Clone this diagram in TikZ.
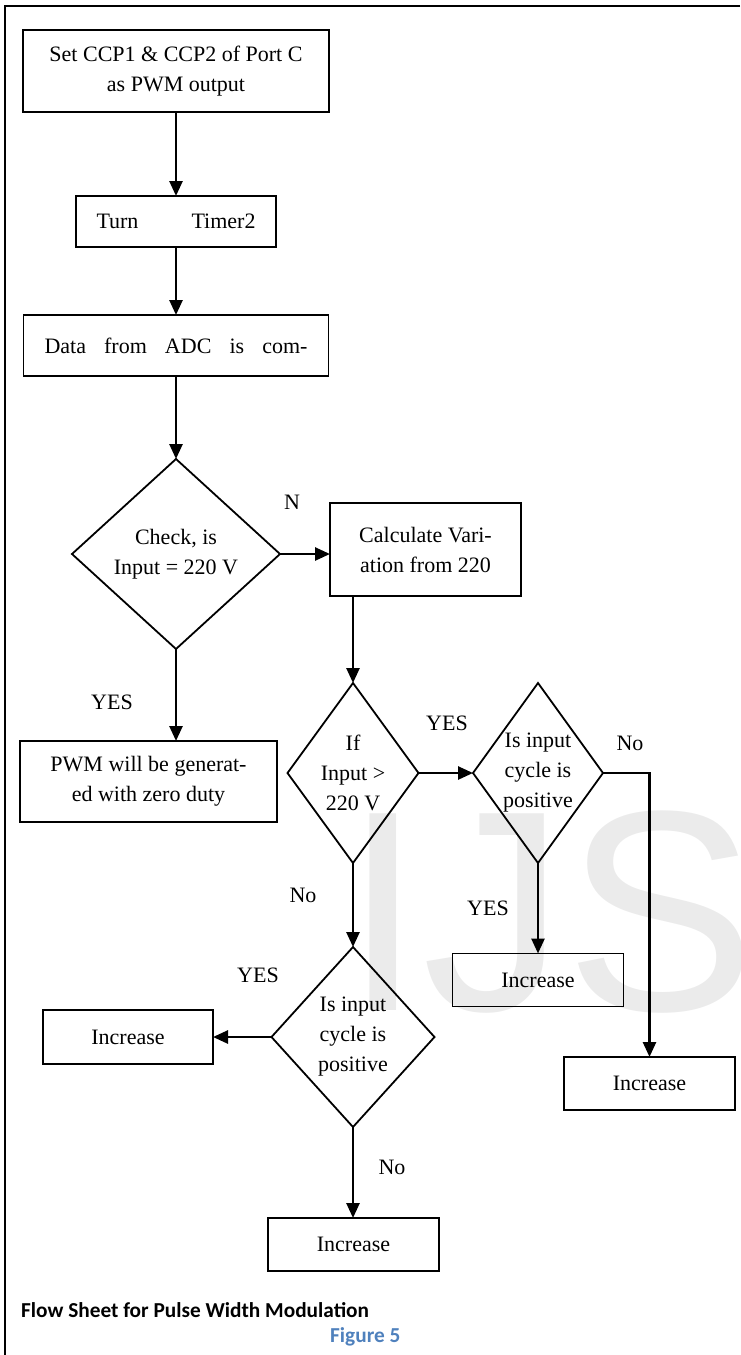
\documentclass[tikz,border=0pt]{standalone}
\usepackage{fontspec}
\setmainfont{Liberation Serif}
\newfontfamily\capfont{Carlito}
\newfontfamily\wmfont{Liberation Sans}
\usetikzlibrary{shapes.geometric,arrows.meta,calc}
\definecolor{wmgray}{RGB}{235,235,235}
\definecolor{figblue}{RGB}{79,129,189}
\begin{document}
\begin{tikzpicture}[x=1pt,y=-1pt,
  every node/.style={font=\fontsize{22}{30}\selectfont},
  box/.style={draw, line width=1.8pt, inner sep=0pt, outer sep=0pt, align=center},
  dia/.style={draw, diamond, line width=1.8pt, inner sep=0pt, outer sep=0pt},
  arr/.style={line width=2.6pt, -{Triangle[length=15pt,width=13pt]}},
  lbl/.style={inner sep=0pt},
  frame/.style={line width=2.4pt},
]
\useasboundingbox (0,0) rectangle (740,1355);
% watermark
\begin{scope}
  \clip (0,0) rectangle (740,1355);
  \node[anchor=base west, inner sep=0pt, text=wmgray, font=\wmfont\fontsize{286}{286}\selectfont] (wm) at (343,1010) {IJS};
\end{scope}
% frame
\coordinate (fr) at (740,6);
\coordinate (fc) at (5,6);
\coordinate (fb) at (5,1355);
\draw[frame] (fr) -- (fc) -- (fb);

% boxes
\node[box, minimum width=306pt, minimum height=82pt] (b1) at (176,71) {Set CCP1 \& CCP2 of Port C\\as PWM output};
\node[box, minimum width=200pt, minimum height=51pt] (b2) at (176,221.5) {\makebox[159pt][s]{Turn Timer2}};
\node[box, minimum width=305pt, minimum height=61pt] (b3) at (176,345.5) {\makebox[263pt][s]{Data from ADC is com-}};
\node[dia, minimum width=208pt, minimum height=190pt,
  label={[align=center, inner sep=0pt]center:{Check, is\\Input = 220 V}}] (d1) at (176,554) {};
\node[box, minimum width=191pt, minimum height=93pt] (calc) at (425.5,549.5) {Calculate Vari-\\ation from 220};
\node[box, minimum width=257pt, minimum height=81pt] (pwm) at (148.5,781.5) {PWM will be generat-\\ed with zero duty};
\node[dia, minimum width=131pt, minimum height=180pt,
  label={[align=center, inner sep=0pt]center:{If\\Input >\\220 V}}] (d2) at (353,773) {};
\node[dia, minimum width=130pt, minimum height=180pt,
  label={[align=center, inner sep=0pt]center:{Is input\\cycle is\\positive}}] (d3) at (538,773) {};
\node[dia, minimum width=163pt, minimum height=180pt,
  label={[align=center, inner sep=0pt]center:{Is input\\cycle is\\positive}}] (d4) at (353,1037) {};
\node[box, minimum width=170pt, minimum height=54pt] (incL) at (128,1037) {Increase};
\node[box, minimum width=171pt, minimum height=53pt] (incB) at (353.5,1244.5) {Increase};
\node[box, minimum width=171pt, minimum height=53pt] (incM) at (538,980) {Increase};
\node[box, minimum width=171pt, minimum height=53pt] (incR) at (649.5,1083.5) {Increase};

% connectors
\draw[arr] (b1.south) -- (b2.north);
\draw[arr] (b2.south) -- (b3.north);
\draw[arr] (b3.south) -- (d1.north);
\draw[arr] (d1.east) -- (d1.east -| calc.west);
\draw[arr] (d1.south) -- (d1.south |- pwm.north);
\draw[arr] (calc.south -| d2.north) -- (d2.north);
\draw[arr] (d2.east) -- (d3.west);
\draw[arr] (d3.south) -- (incM.north);
\draw[arr] (d3.east) -- (incR.north |- d3.east) -- (incR.north);
\draw[arr] (d2.south) -- (d4.north);
\draw[arr] (d4.west) -- (incL.east);
\draw[arr] (d4.south) -- (d4.south |- incB.north);

% labels
\node[lbl] (lN) at (292,502) {N};
\node[lbl] (lY1) at (112,702) {YES};
\node[lbl] (lY2) at (447,723) {YES};
\node[lbl] (lNo1) at (630,743) {No};
\node[lbl] (lNo2) at (303,895) {No};
\node[lbl] (lY3) at (488,908) {YES};
\node[lbl] (lY4) at (258,975) {YES};
\node[lbl] (lNo3) at (392,1167) {No};

% caption
\node[anchor=base west, inner sep=0pt, font=\capfont\bfseries\fontsize{21.3}{24}\selectfont] (cap) at (21,1317) {Flow Sheet for Pulse Width Modulation};
\node[anchor=base west, inner sep=0pt, text=figblue, font=\capfont\bfseries\fontsize{21.3}{24}\selectfont] (fig) at (330,1342) {Figure 5};
\end{tikzpicture}
\end{document}
